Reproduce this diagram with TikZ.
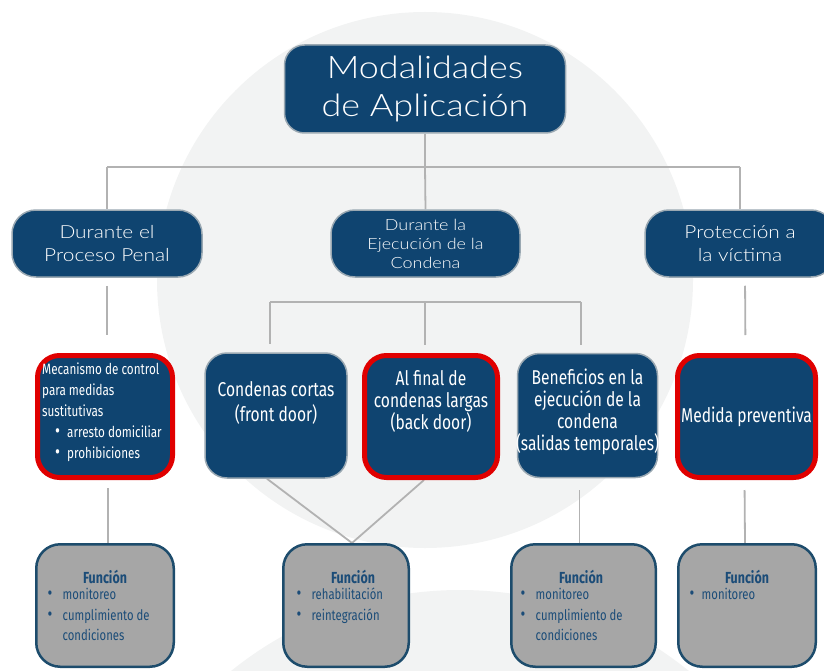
\documentclass[tikz,border=0pt]{standalone}
\usepackage{fontspec}
\usepackage{graphicx}
\setmainfont[FakeStretch=1.16]{Lato Light}
\newfontfamily\cond[FakeStretch=0.78]{Fira Sans}
\definecolor{navy}{HTML}{0F4470}
\definecolor{edgec}{HTML}{9AA8B2}
\definecolor{redc}{HTML}{E00000}
\definecolor{grayc}{HTML}{A6A6A6}
\definecolor{gbord}{HTML}{1D4C6C}
\definecolor{linec}{HTML}{B2B2B2}
\definecolor{bgc}{HTML}{F2F3F3}
\definecolor{ftext}{HTML}{1B4C78}
\pgfdeclarelayer{bg}
\pgfsetlayers{bg,main}
\newcommand\fbul{\makebox[15pt][l]{\scalebox{1.3}{•}}}
\newcommand\mbul{\hspace*{13pt}\makebox[12pt][l]{\scalebox{1.3}{•}}}
\begin{document}
\begin{tikzpicture}[x=1pt,y=-1pt,
 navybox/.style={draw=edgec, line width=1.5pt, fill=navy, rounded corners=22pt, inner sep=0pt},
 redbox/.style={navybox, draw=redc, line width=5pt},
 graybox/.style={draw=gbord, line width=2.5pt, fill=grayc, rounded corners=24pt, inner sep=0pt},
 conn/.style={draw=linec, line width=1.8pt},
 wtxt/.style={text=white, align=center, inner sep=0pt},
 ctxt/.style={wtxt, font=\cond\fontsize{20}{22}\selectfont},
 ftitle/.style={text=ftext, inner sep=0pt, font=\cond\bfseries\fontsize{16}{17}\selectfont},
 flist/.style={text=ftext, inner sep=0pt, align=left, anchor=north west, font=\cond\fontsize{14.5}{20.5}\selectfont},
]
\useasboundingbox (0,0) rectangle (824,671);
% level 1
\node[navybox, wtxt, minimum width=281pt, minimum height=88pt, rounded corners=20pt,
  font=\fontsize{31}{38}\selectfont] (top) at (425,89) {Modalidades\\de Aplicación};
% level 2
\node[navybox, wtxt, minimum width=190pt, minimum height=67pt, rounded corners=24pt,
  font=\fontsize{18}{23}\selectfont] (p1) at (107,243.5) {Durante el\\Proceso Penal};
\node[navybox, wtxt, minimum width=189pt, minimum height=67pt, rounded corners=24pt,
  font=\fontsize{15.5}{19}\selectfont] (p2) at (425.5,243.5) {Durante la\\Ejecución de la\\Condena};
\node[navybox, wtxt, minimum width=190pt, minimum height=67pt, rounded corners=24pt,
  font=\fontsize{18}{23}\selectfont] (p3) at (740,243.5) {Protección a\\la víctima};
% level 3
\node[redbox, minimum width=135pt, minimum height=122pt] (m1) at (105,416.5) {};
\node[navybox, minimum width=142pt, minimum height=125pt] (m2) at (276,415.5) {};
\node[redbox, minimum width=133pt, minimum height=122pt] (m3) at (431,416.5) {};
\node[navybox, minimum width=140pt, minimum height=124pt] (m4) at (587.5,415.5) {};
\node[redbox, minimum width=138pt, minimum height=122pt] (m5) at (746.5,416.5) {};
\node[wtxt, align=left, anchor=north west, font=\cond\fontsize{15}{21}\selectfont] (m1t) at (42,363)
 {Mecanismo de control\\para medidas\\sustitutivas\\\mbul arresto domiciliar\\\mbul prohibiciones};
\node[ctxt, font=\cond\fontsize{20}{25}\selectfont] (m2t) at (276,402.5) {Condenas cortas\\(front door)};
\node[ctxt] (m3t) at (431,401.5) {Al final de\\condenas largas\\(back door)};
\node[ctxt] (m4t) at (587.5,411.5) {Beneficios en la\\ejecución de la\\condena\\(salidas temporales)};
\node[ctxt] (m5t) at (746.5,417) {Medida preventiva};
% level 4
\node[graybox, minimum width=137.5pt, minimum height=122.5pt] (f1) at (105,605.5) {};
\node[graybox, minimum width=125.5pt, minimum height=122.5pt] (f2) at (346,605.5) {};
\node[graybox, minimum width=144.5pt, minimum height=122.5pt] (f3) at (583.5,605.5) {};
\node[graybox, minimum width=137.5pt, minimum height=122.5pt] (f4) at (747,605.5) {};
\node[ftitle] (f1h) at (105,577) {Función};
\node[ftitle] (f2h) at (353,577) {Función};
\node[ftitle] (f3h) at (581,577) {Función};
\node[ftitle] (f4h) at (747,577) {Función};
\node[flist] (f1l) at (47.5,588) {\fbul monitoreo\\\fbul cumplimiento de\\\hspace*{15pt}condiciones};
\node[flist] (f2l) at (296.5,588) {\fbul rehabilitación\\\fbul reintegración};
\node[flist] (f3l) at (520.5,588) {\fbul monitoreo\\\fbul cumplimiento de\\\hspace*{15pt}condiciones};
\node[flist] (f4l) at (689.5,588) {\makebox[12pt][l]{\scalebox{1.3}{•}}monitoreo};
% background and connectors
\begin{pgfonlayer}{bg}
\fill[bgc] (425,280) circle[radius=268pt];
\fill[bgc] (460,954) circle[radius=364pt];
\coordinate (j1) at (425,167);
\draw[conn] (top.south) -- (j1);
\draw[conn] (p1.north |- j1) -- (p3.north |- j1);
\draw[conn] (p1.north |- j1) -- (p1.north);
\draw[conn] (j1) -- (p2.north);
\draw[conn] (p3.north |- j1) -- (p3.north);
\draw[conn, shorten <=8pt, shorten >=18pt] (p1.south) -- (p1.south |- m1.north);
\draw[conn, shorten <=8pt, shorten >=18pt] ([xshift=5pt]p3.south) -- ([xshift=-1pt]m5.north);
\coordinate (j2) at (425,302);
\coordinate (j2l) at (270,302);
\coordinate (j2r) at (581,302);
\draw[conn] (j2l) -- (j2r);
\draw[conn, shorten >=8pt] (j2l) -- (j2l |- m2.north);
\draw[conn, shorten >=8pt] (j2) -- (j2 |- m3.north);
\draw[conn, shorten >=8pt] (j2r) -- (j2r |- m4.north);
\draw[conn, shorten <=8pt] ([xshift=3pt]m1.south) -- ([xshift=3pt]f1.north);
\draw[conn] ([xshift=-9pt]m2.south) -- ([xshift=6pt]f2.north);
\draw[conn] ([xshift=-7pt]m3.south) -- ([xshift=6pt]f2.north);
\draw[conn, shorten <=12pt] ([xshift=-8pt]m4.south) -- ([xshift=-4pt]f3.north);
\draw[conn, shorten <=10pt] ([xshift=-2pt]m5.south) -- ([xshift=-2pt]f4.north);
\end{pgfonlayer}
\end{tikzpicture}
\end{document}
